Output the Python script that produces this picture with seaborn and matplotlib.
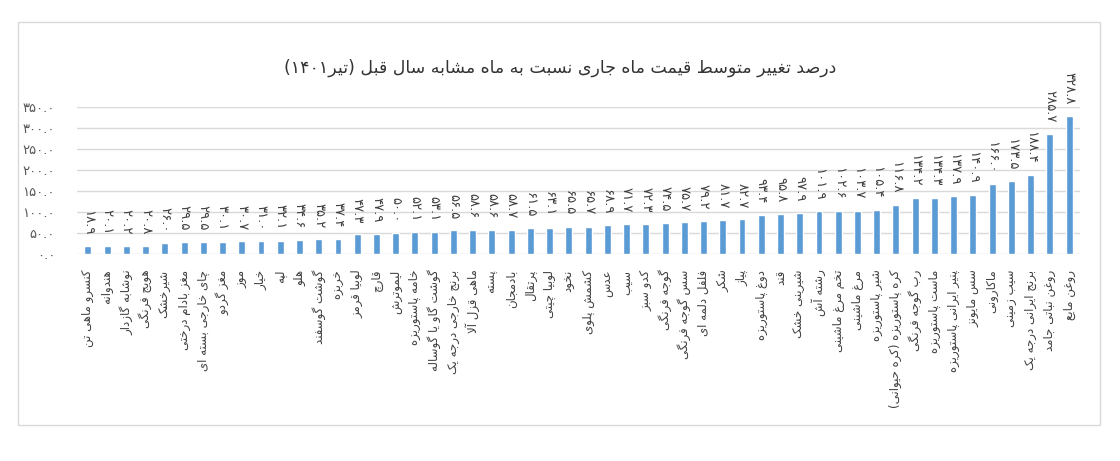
import re
import matplotlib
matplotlib.use('Agg')
import matplotlib.pyplot as plt
from matplotlib.patches import Rectangle
import seaborn as sns
import pandas as pd

# item names (left to right) and % change vs. same month last year
items = [
    'کنسرو ماهی تن', 'هندوانه', 'نوشابه گازدار', 'هویج فرنگی', 'شیرخشک',
    'مغز بادام درختی', 'چای خارجی بسته ای', 'مغز گردو', 'موز', 'خیار',
    'لپه', 'هلو', 'گوشت گوسفند', 'خربزه', 'لوبیا قرمز', 'قارچ', 'لیموترش',
    'خامه پاستوریزه', 'گوشت گاو یا گوساله', 'برنج خارجی درجه یک',
    'ماهی قزل آلا', 'پسته', 'بادمجان', 'پرتقال', 'لوبیا چیتی', 'نخود',
    'کشمش پلوی', 'عدس', 'سیب', 'کدو سبز', 'گوجه فرنگی', 'سس گوجه فرنگی',
    'فلفل دلمه ای', 'شکر', 'پیاز', 'دوغ پاستوریزه', 'قند', 'شیرینی خشک',
    'رشته آش', 'تخم مرغ ماشینی', 'مرغ ماشینی', 'شیر پاستوریزه',
    'کره پاستوریزه (کره حیوانی)', 'رب گوجه فرنگی', 'ماست پاستوریزه',
    'پنیر ایرانی پاستوریزه', 'سس مایونز', 'ماکارونی', 'سیب زمینی',
    'برنج ایرانی درجه یک', 'روغن نباتی جامد', 'روغن مایع',
]
changes = [
    18.9, 20.1, 20.2, 20.8, 26.0, 29.5, 29.5, 30.1, 30.7, 31.0,
    32.1, 34.6, 35.2, 37.4, 47.3, 47.9, 50.0, 52.1, 53.1, 56.5,
    58.6, 58.6, 58.7, 61.5, 63.1, 65.5, 65.7, 68.9, 71.7, 72.3,
    74.5, 75.7, 79.2, 81.7, 82.7, 93.4, 95.8, 97.9, 101.9, 102.6,
    103.7, 105.4, 116.8, 134.2, 134.3, 137.9, 140.9, 166.0, 173.5, 188.4,
    285.7, 328.8,
]
title = 'درصد تغییر متوسط قیمت ماه جاری نسبت به ماه مشابه سال قبل (تیر۱۴۰۱)'
yticks = [0, 50, 100, 150, 200, 250, 300, 350]

# --- minimal Persian shaping + bidi (matplotlib has no text shaping) ---
FORMS = {
    'ا': 'ﺍﺎ', 'آ': 'ﺁﺂ', 'د': 'ﺩﺪ', 'ذ': 'ﺫﺬ', 'ر': 'ﺭﺮ', 'ز': 'ﺯﺰ',
    'ژ': 'ﮊﮋ', 'و': 'ﻭﻮ',
    'ب': 'ﺏﺐﺑﺒ', 'پ': 'ﭖﭗﭘﭙ', 'ت': 'ﺕﺖﺗﺘ', 'ث': 'ﺙﺚﺛﺜ', 'ج': 'ﺝﺞﺟﺠ',
    'چ': 'ﭺﭻﭼﭽ', 'ح': 'ﺡﺢﺣﺤ', 'خ': 'ﺥﺦﺧﺨ', 'س': 'ﺱﺲﺳﺴ', 'ش': 'ﺵﺶﺷﺸ',
    'ص': 'ﺹﺺﺻﺼ', 'ض': 'ﺽﺾﺿﻀ', 'ط': 'ﻁﻂﻃﻄ', 'ظ': 'ﻅﻆﻇﻈ', 'ع': 'ﻉﻊﻋﻌ',
    'غ': 'ﻍﻎﻏﻐ', 'ف': 'ﻑﻒﻓﻔ', 'ق': 'ﻕﻖﻗﻘ', 'ک': 'ﮎﮏﮐﮑ', 'گ': 'ﮒﮓﮔﮕ',
    'ل': 'ﻝﻞﻟﻠ', 'م': 'ﻡﻢﻣﻤ', 'ن': 'ﻥﻦﻧﻨ', 'ه': 'ﻩﻪﻫﻬ', 'ی': 'ﯼﯽﯾﯿ',
}
LAM_ALEF = {'ا': 'ﻻﻼ', 'آ': 'ﻵﻶ'}


def shape(text):
    out, i, n = [], 0, len(text)
    while i < n:
        c = text[i]
        if c not in FORMS:
            out.append(c)
            i += 1
            continue
        prev = text[i - 1] if i > 0 else ''
        join_prev = prev in FORMS and len(FORMS[prev]) == 4
        nxt = text[i + 1] if i + 1 < n else ''
        if c == 'ل' and nxt in LAM_ALEF:
            out.append(LAM_ALEF[nxt][1 if join_prev else 0])
            i += 2
            continue
        join_next = len(FORMS[c]) == 4 and nxt in FORMS
        idx = {(False, False): 0, (True, False): 1,
               (False, True): 2, (True, True): 3}[(join_prev, join_next)]
        out.append(FORMS[c][idx])
        i += 1
    return ''.join(out)


MIRROR = str.maketrans('()', ')(')


def fa(text):
    parts = re.split(r'([۰-۹.]+)', shape(text))
    return ''.join(p if re.fullmatch(r'[۰-۹.]+', p) else p[::-1].translate(MIRROR)
                   for p in reversed(parts))


DIGITS = str.maketrans('0123456789', '۰۱۲۳۴۵۶۷۸۹')


def fa_num(v):
    return f'{v:.1f}'.translate(DIGITS)


sns.set_theme(style='white')
plt.rcParams['font.family'] = ['DejaVu Sans']

df = pd.DataFrame({'item': items, 'change': changes})

fig = plt.figure(figsize=(11.2, 4.61), dpi=100)
ax = fig.add_axes([0.069, 0.4484, 0.895, 0.3202])

sns.barplot(data=df, x='item', y='change', color='#5B9BD5', width=0.36,
            saturation=1, ax=ax)

ax.set_ylim(0, 350)
ax.set_xlim(-0.55, len(items) - 0.45)
ax.set_yticks(yticks)
ax.set_yticklabels([fa_num(t) for t in yticks], fontsize=9.5, color='#595959')
ax.set_xticks(range(len(items)))
ax.set_xticklabels([fa(s) for s in items], rotation=90, fontsize=8.5,
                   color='#404040', va='top', ha='center')
ax.tick_params(axis='x', length=0, pad=11)
ax.tick_params(axis='y', length=0, pad=16)
ax.set_xlabel('')
ax.set_ylabel('')
ax.grid(axis='y', color='#D9D9D9', lw=1)
ax.set_axisbelow(True)
for s in ax.spines.values():
    s.set_visible(False)

for i, v in enumerate(changes):
    ax.annotate(fa_num(v), (i, v), xytext=(0, 8), textcoords='offset points',
                rotation=-90, ha='center', va='bottom', fontsize=9.5,
                color='#404040')

fig.text(0.5, 1 - 68 / 461, fa(title), ha='center', va='center',
         fontsize=12.5, color='#333333')

fig.patches.append(Rectangle((18 / 1120, 1 - 425 / 461), 1082 / 1120, 403 / 461,
                             transform=fig.transFigure, fill=False,
                             ec='#D9D9D9', lw=1))

fig.savefig('out.png', dpi=100, facecolor='white')
